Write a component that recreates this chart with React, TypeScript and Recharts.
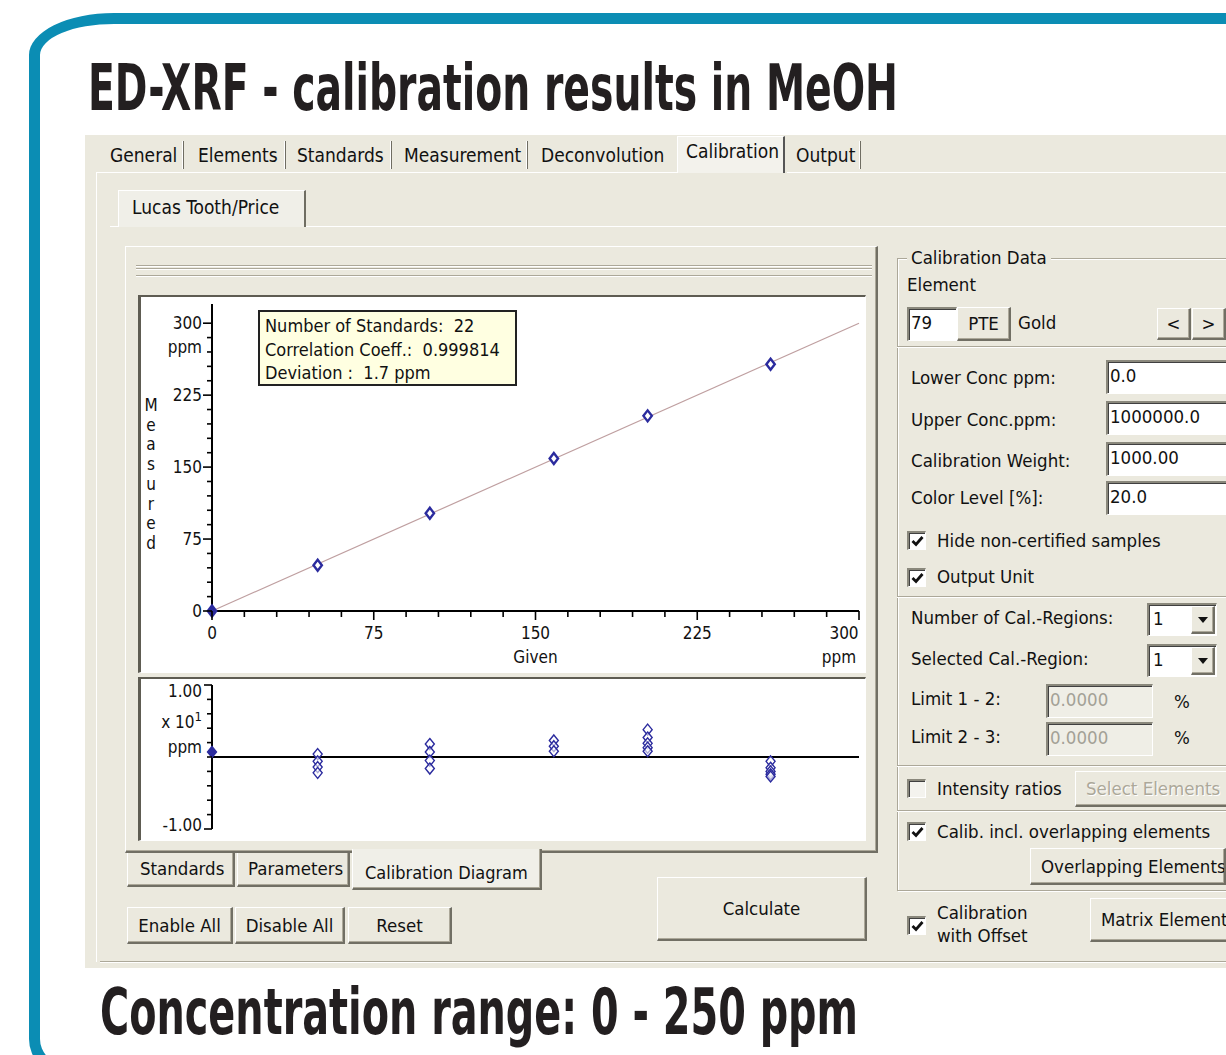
import React from "react";
import { ScatterChart, Scatter, XAxis, YAxis, ReferenceLine, Label } from "recharts";

// calibration standards: given vs measured concentration (ppm)
const givenPpm = [0, 49, 101, 158.5, 202, 259];
const measuredPpm = [0, 47.6, 101.8, 159, 203.4, 257.3];

// fitted calibration line
const fitGiven = [0, 300];
const fitMeasured = [0, 300];

// deviation of each standard (x 10^1 ppm), one list per concentration level
const residualGiven = [0, 49, 101, 158.5, 202, 259];
const residualValues = [
  [0.07],
  [0.04, -0.06, -0.14, -0.22],
  [0.18, 0.07, -0.05, -0.16],
  [0.23, 0.15, 0.08],
  [0.38, 0.27, 0.19, 0.13, 0.08],
  [-0.06, -0.15, -0.2, -0.24, -0.27],
];

const ppmTicks = [0, 15, 30, 45, 60, 75, 90, 105, 120, 135, 150, 165, 180, 195, 210, 225, 240, 255, 270, 285, 300];
const ppmMajor = [0, 75, 150, 225, 300];
const residualTicks = [-1, -0.8, -0.6, -0.4, -0.2, 0, 0.2, 0.4, 0.6, 0.8, 1];
const residualTickLabels: Record<string, string> = { "1": "1.00", "-1": "-1.00" };

const infoLines = ["Number of Standards:  22", "Correlation Coeff.:  0.999814", "Deviation :  1.7 ppm"];
const topTabs = [
  { label: "General", x: 110, sep: 182 },
  { label: "Elements", x: 198, sep: 284 },
  { label: "Standards", x: 297, sep: 390 },
  { label: "Measurement", x: 404, sep: 526 },
  { label: "Deconvolution", x: 541, sep: 0 },
  { label: "Output", x: 796, sep: 859 },
];

const calibPoints = givenPpm.map((g, i) => ({ given: g, measured: measuredPpm[i] }));
const fitLine = fitGiven.map((g, i) => ({ given: g, measured: fitMeasured[i] }));
const residualPoints = residualGiven.flatMap((g, i) => residualValues[i].map((r) => ({ given: g, residual: r })));

const UI_FONT = '"Liberation Sans Narrow", "Arial Narrow", "DejaVu Sans Condensed", sans-serif';
const BEIGE = "#ebe9de";
const BLUE = "#2b2b9e";
const FS = 18.5;

const raised: React.CSSProperties = {
  background: BEIGE,
  borderTop: "1px solid #fff",
  borderLeft: "1px solid #fff",
  borderRight: "2px solid #716f64",
  borderBottom: "2px solid #716f64",
  boxShadow: "inset -1px -1px 0 #aca899",
};
const sunken: React.CSSProperties = {
  background: "#fff",
  borderTop: "2px solid #8a887c",
  borderLeft: "2px solid #8a887c",
  borderRight: "1px solid #fff",
  borderBottom: "1px solid #fff",
  boxShadow: "inset 1px 1px 0 #404040",
};

function Box({ l, t, w, h, style, children }: any) {
  return (
    <div style={{ position: "absolute", left: l, top: t, width: w, height: h, boxSizing: "border-box", ...style }}>
      {children}
    </div>
  );
}

function Txt({ x, cy, children, size = FS, color = "#111", style }: any) {
  return (
    <div
      style={{
        position: "absolute",
        left: x,
        top: cy - 12,
        height: 24,
        lineHeight: "24px",
        fontSize: size,
        color,
        whiteSpace: "pre",
        fontFamily: UI_FONT,
        ...style,
      }}
    >
      {children}
    </div>
  );
}

function Button({ l, t, w, h, label, disabled, left }: any) {
  return (
    <Box
      l={l}
      t={t}
      w={w}
      h={h}
      style={{
        ...raised,
        display: "flex",
        alignItems: "center",
        justifyContent: left ? "flex-start" : "center",
        paddingLeft: left ? 10 : 0,
        fontFamily: UI_FONT,
        fontSize: FS,
        color: disabled ? "#aca899" : "#111",
        textShadow: disabled ? "1px 1px 0 #fff" : "none",
        whiteSpace: "nowrap",
        overflow: "hidden",
      }}
    >
      {label}
    </Box>
  );
}

function Check({ l, t, checked }: any) {
  return (
    <Box l={l} t={t} w={19} h={19} style={{ ...sunken, background: checked ? "#fff" : "#f4f3ee" }}>
      {checked && (
        <svg width={15} height={15} style={{ position: "absolute", left: 1, top: 1 }}>
          <path d="M2.5 7 L6 10.5 L12.5 3" stroke="#111" strokeWidth={2.8} fill="none" />
        </svg>
      )}
    </Box>
  );
}

function Input({ l, t, w, h, value, disabled }: any) {
  return (
    <Box l={l} t={t} w={w} h={h} style={{ ...sunken, background: disabled ? "#efeee6" : "#fff" }}>
      <Txt x={2} cy={h / 2 - 3} color={disabled ? "#a3a196" : "#111"}>
        {value}
      </Txt>
    </Box>
  );
}

function Combo({ l, t, w, h, value }: any) {
  return (
    <Box l={l} t={t} w={w} h={h} style={sunken}>
      <Txt x={4} cy={h / 2 - 3}>{value}</Txt>
      <Box l={w - 28} t={1} w={24} h={h - 5} style={{ ...raised, display: "flex", alignItems: "center", justifyContent: "center" }}>
        <svg width={10} height={6}>
          <path d="M0 0 L10 0 L5 6 Z" fill="#111" />
        </svg>
      </Box>
    </Box>
  );
}

function HGroove({ l, t, w }: any) {
  return <Box l={l} t={t} w={w} h={2} style={{ borderTop: "1px solid #aca899", borderBottom: "1px solid #fff" }} />;
}

const Diamond = (props: any) => {
  const { cx, cy, payload } = props;
  if (cx == null || cy == null) return <g />;
  const filled = payload.given === 0;
  return (
    <path
      d={`M${cx},${cy - 5.5} L${cx + 4.2},${cy} L${cx},${cy + 5.5} L${cx - 4.2},${cy} Z`}
      fill={filled ? BLUE : "#fff"}
      stroke={BLUE}
      strokeWidth={2.4}
    />
  );
};

const ResidualDiamond = (props: any) => {
  const { cx, cy, payload } = props;
  if (cx == null || cy == null) return <g />;
  const filled = payload.given === 0;
  return (
    <path
      d={`M${cx},${cy - 5.5} L${cx + 4.5},${cy} L${cx},${cy + 5.5} L${cx - 4.5},${cy} Z`}
      fill={filled ? BLUE : "#fff"}
      fillOpacity={filled ? 1 : 0.6}
      stroke={BLUE}
      strokeWidth={1.4}
    />
  );
};

const tickText = { fontFamily: UI_FONT, fontSize: 17, fill: "#111" };

const MainYTick = ({ x, y, payload }: any) => {
  const v = payload.value;
  const major = ppmMajor.includes(v);
  return (
    <g>
      <line x1={x} x2={x - (major ? 9 : 5)} y1={y} y2={y} stroke="#000" strokeWidth={1.6} />
      {major && (
        <text x={x - 10} y={y} dy={6} textAnchor="end" {...tickText}>
          {v}
        </text>
      )}
      {v === 300 && (
        <text x={x - 10} y={y + 24} dy={6} textAnchor="end" {...tickText}>
          ppm
        </text>
      )}
    </g>
  );
};

const MainXTick = ({ x, y, payload }: any) => {
  const v = payload.value;
  const major = ppmMajor.includes(v);
  return (
    <g>
      <line x1={x} x2={x} y1={y} y2={y + (major ? 9 : 6)} stroke="#000" strokeWidth={1.6} />
      {major && (
        <text x={v === 300 ? x - 15 : x} y={y + 22} dy={6} textAnchor="middle" {...tickText}>
          {v}
        </text>
      )}
      {v === 150 && (
        <text x={x} y={y + 46} dy={6} textAnchor="middle" {...tickText}>
          Given
        </text>
      )}
      {v === 300 && (
        <text x={x - 20} y={y + 46} dy={6} textAnchor="middle" {...tickText}>
          ppm
        </text>
      )}
    </g>
  );
};

const ResidualYTick = ({ x, y, payload }: any) => {
  const v = Math.round(payload.value * 10) / 10;
  const label = residualTickLabels[String(v)];
  const edge = Math.abs(v) === 1;
  return (
    <g>
      <line x1={x} x2={x - (edge ? 8 : 5)} y1={y} y2={y} stroke="#000" strokeWidth={1.6} />
      {label && (
        <text x={x - 10} y={v > 0 ? y + 6 : y - 4} dy={6} textAnchor="end" {...tickText}>
          {label}
        </text>
      )}
      {v === 0.4 && (
        <text x={x - 10} y={y - 6} dy={6} textAnchor="end" {...tickText}>
          x 10<tspan dy={-7} fontSize={13}>1</tspan>
        </text>
      )}
      {v === 0.2 && (
        <text x={x - 10} y={y + 4} dy={6} textAnchor="end" {...tickText}>
          ppm
        </text>
      )}
    </g>
  );
};

const MeasuredLabel = (props: any) => {
  const vb = props.viewBox || { x: 0, y: 0 };
  const letters = "Measured".split("");
  return (
    <g>
      {letters.map((c, i) => (
        <text key={i} x={vb.x + 9} y={vb.y + 107 + i * 19.7} textAnchor="middle" {...tickText}>
          {c}
        </text>
      ))}
    </g>
  );
};

function CalibrationChart() {
  return (
    <ScatterChart width={721} height={373} margin={{ top: 6, right: 4, bottom: 0, left: 0 }}>
      <XAxis
        type="number"
        dataKey="given"
        domain={[0, 300]}
        ticks={ppmTicks}
        interval={0}
        height={60}
        tickSize={0}
        tickMargin={0}
        tickLine={false}
        axisLine={{ stroke: "#000", strokeWidth: 2 }}
        tick={MainXTick}
      />
      <YAxis
        type="number"
        dataKey="measured"
        domain={[0, 320]}
        ticks={ppmTicks}
        interval={0}
        width={70}
        tickSize={0}
        tickMargin={0}
        tickLine={false}
        axisLine={{ stroke: "#000", strokeWidth: 2 }}
        tick={MainYTick}
      >
        <Label content={MeasuredLabel} />
      </YAxis>
      <Scatter
        data={fitLine}
        line={{ stroke: "#bf9fa0", strokeWidth: 1.2 }}
        shape={() => <g />}
        isAnimationActive={false}
      />
      <Scatter data={calibPoints} shape={Diamond} isAnimationActive={false} />
    </ScatterChart>
  );
}

function ResidualChart() {
  return (
    <ScatterChart width={721} height={157} margin={{ top: 5, right: 4, bottom: 8, left: 0 }}>
      <XAxis type="number" dataKey="given" domain={[0, 300]} hide height={0} />
      <YAxis
        type="number"
        dataKey="residual"
        domain={[-1, 1]}
        ticks={residualTicks}
        interval={0}
        width={70}
        tickSize={0}
        tickMargin={0}
        tickLine={false}
        axisLine={{ stroke: "#000", strokeWidth: 2 }}
        tick={ResidualYTick}
      />
      <ReferenceLine y={0} stroke="#000" strokeWidth={2} />
      <Scatter data={residualPoints} shape={ResidualDiamond} isAnimationActive={false} />
    </ScatterChart>
  );
}

export default function App() {
  return (
    <div
      style={{
        position: "absolute",
        left: 0,
        top: 0,
        width: 1226,
        height: 1055,
        overflow: "hidden",
        background: "#fff",
        fontFamily: UI_FONT,
      }}
    >
      {/* teal frame */}
      <Box
        l={29}
        t={13}
        w={1300}
        h={1062}
        style={{
          border: "11px solid #0b8db4",
          borderTopLeftRadius: "85px 42px",
          borderBottomLeftRadius: "36px",
        }}
      />

      <svg width={1226} height={130} style={{ position: "absolute", left: 0, top: 0 }}>
        <text
          x={88}
          y={110}
          fontSize={64}
          fontWeight="bold"
          fill="#231f20"
          fontFamily={UI_FONT}
          textLength={810}
          lengthAdjust="spacingAndGlyphs"
        >
          ED-XRF - calibration results in MeOH
        </text>
      </svg>

      {/* screenshot area */}
      <Box l={85} t={135} w={1141} h={833} style={{ background: BEIGE }} />

      {/* top tabs */}
      <Box l={677} t={136} w={108} h={37} style={{ background: "#f3f2ec", borderTop: "1px solid #fff", borderLeft: "1px solid #fff", borderRight: "2px solid #555" }} />
      <Txt x={686} cy={151} size={19}>Calibration</Txt>
      {topTabs.map((tb) => (
        <React.Fragment key={tb.label}>
          <Txt x={tb.x} cy={155} size={19}>{tb.label}</Txt>
          {tb.sep > 0 && <Box l={tb.sep} t={141} w={2} h={28} style={{ background: "#6f6d62", borderLeft: "1px solid #fff" }} />}
        </React.Fragment>
      ))}
      <Box l={96} t={172} w={581} h={1} style={{ background: "#fff" }} />
      <Box l={787} t={172} w={440} h={1} style={{ background: "#fff" }} />
      <Box l={96} t={172} w={1} h={790} style={{ background: "#fff" }} />

      {/* inner tab */}
      <Box l={118} t={190} w={188} h={37} style={{ background: "#f0efe8", borderTop: "1px solid #fff", borderLeft: "1px solid #fff", borderRight: "2px solid #6f6d62" }} />
      <Txt x={132} cy={207} size={19}>Lucas Tooth/Price</Txt>
      <Box l={306} t={226} w={920} h={1} style={{ background: "#fff" }} />
      <Box l={110} t={226} w={8} h={1} style={{ background: "#fff" }} />

      {/* calibration diagram page */}
      <Box l={125} t={246} w={753} h={607} style={raised} />
      <HGroove l={136} t={265} w={736} />
      <HGroove l={136} t={268} w={736} />
      <HGroove l={136} t={275} w={736} />
      <Box l={138} t={295} w={728} h={378} style={{ ...sunken, borderTop: "2px solid #5e5c52", borderLeft: "3px solid #5e5c52", boxShadow: "none" }} />
      <Box l={138} t={677} w={728} h={164} style={{ ...sunken, borderTop: "2px solid #5e5c52", borderLeft: "3px solid #5e5c52", boxShadow: "none" }} />

      <div style={{ position: "absolute", left: 142, top: 298 }}>
        <CalibrationChart />
      </div>
      <div style={{ position: "absolute", left: 142, top: 680 }}>
        <ResidualChart />
      </div>

      {/* info box */}
      <Box l={258} t={310} w={259} h={76} style={{ background: "#ffffe1", border: "2px solid #222" }}>
        {infoLines.map((s, i) => (
          <Txt key={s} x={5} cy={14 + i * 23.5} size={18}>
            {s}
          </Txt>
        ))}
      </Box>

      {/* bottom tabs */}
      <Box l={127} t={853} w={108} h={34} style={{ ...raised, borderTop: "none" }} />
      <Txt x={140} cy={869} size={18.5}>Standards</Txt>
      <Box l={237} t={853} w={113} h={34} style={{ ...raised, borderTop: "none" }} />
      <Txt x={248} cy={869} size={18.5}>Parameters</Txt>
      <Box l={352} t={849} w={190} h={41} style={{ ...raised, background: "#f0efe8", borderTop: "none" }} />
      <Txt x={365} cy={873} size={18}>Calibration Diagram</Txt>

      <Button l={127} t={907} w={106} h={37} label="Enable All" />
      <Button l={235} t={907} w={110} h={37} label="Disable All" />
      <Button l={348} t={907} w={104} h={37} label="Reset" />
      <Button l={657} t={877} w={210} h={64} label="Calculate" />

      <HGroove l={100} t={961} w={1126} />

      {/* right panel */}
      <Box l={897} t={258} w={400} h={633} style={{ border: "1px solid #aca899", boxShadow: "inset 1px 1px 0 #fff, 1px 1px 0 #fff" }} />
      <Txt x={907} cy={258} style={{ background: BEIGE, padding: "0 4px" }}>Calibration Data</Txt>
      <Txt x={907} cy={285}>Element</Txt>
      <Input l={907} t={307} w={50} h={34} value="79" />
      <Button l={957} t={307} w={54} h={34} label="PTE" />
      <Txt x={1018} cy={323}>Gold</Txt>
      <Button l={1157} t={308} w={34} h={32} label="<" />
      <Button l={1192} t={308} w={34} h={32} label=">" />
      <HGroove l={897} t={346} w={330} />

      <Txt x={911} cy={378}>Lower Conc ppm:</Txt>
      <Txt x={911} cy={420}>Upper Conc.ppm:</Txt>
      <Txt x={911} cy={461}>Calibration Weight:</Txt>
      <Txt x={911} cy={498}>Color Level [%]:</Txt>
      <Input l={1106} t={360} w={130} h={34} value="0.0" />
      <Input l={1106} t={401} w={130} h={34} value="1000000.0" />
      <Input l={1106} t={442} w={130} h={34} value="1000.00" />
      <Input l={1106} t={481} w={130} h={34} value="20.0" />

      <Check l={907} t={531} checked />
      <Txt x={937} cy={541}>Hide non-certified samples</Txt>
      <Check l={907} t={568} checked />
      <Txt x={937} cy={577}>Output Unit</Txt>
      <HGroove l={897} t={596} w={330} />

      <Txt x={911} cy={618}>Number of Cal.-Regions:</Txt>
      <Combo l={1147} t={603} w={70} h={33} value="1" />
      <Txt x={911} cy={659}>Selected Cal.-Region:</Txt>
      <Combo l={1147} t={644} w={70} h={33} value="1" />
      <Txt x={911} cy={699}>Limit 1 - 2:</Txt>
      <Input l={1046} t={684} w={107} h={34} value="0.0000" disabled />
      <Txt x={1174} cy={702}>%</Txt>
      <Txt x={911} cy={737}>Limit 2 - 3:</Txt>
      <Input l={1046} t={722} w={107} h={34} value="0.0000" disabled />
      <Txt x={1174} cy={738}>%</Txt>
      <HGroove l={897} t={765} w={330} />

      <Check l={907} t={779} />
      <Txt x={937} cy={789}>Intensity ratios</Txt>
      <Button l={1075} t={771} w={165} h={36} label="Select Elements" disabled left />
      <HGroove l={897} t={810} w={330} />

      <Check l={907} t={822} checked />
      <Txt x={937} cy={832}>Calib. incl. overlapping elements</Txt>
      <Button l={1030} t={848} w={196} h={37} label="Overlapping Elements" left />

      <Check l={907} t={916} checked />
      <Txt x={937} cy={913}>Calibration</Txt>
      <Txt x={937} cy={936}>with Offset</Txt>
      <Button l={1090} t={898} w={150} h={44} label="Matrix Elements" left />

      <svg width={1226} height={90} style={{ position: "absolute", left: 0, top: 970 }}>
        <text
          x={100}
          y={64}
          fontSize={64}
          fontWeight="bold"
          fill="#231f20"
          fontFamily={UI_FONT}
          textLength={758}
          lengthAdjust="spacingAndGlyphs"
        >
          Concentration range: 0 - 250 ppm
        </text>
      </svg>
    </div>
  );
}
